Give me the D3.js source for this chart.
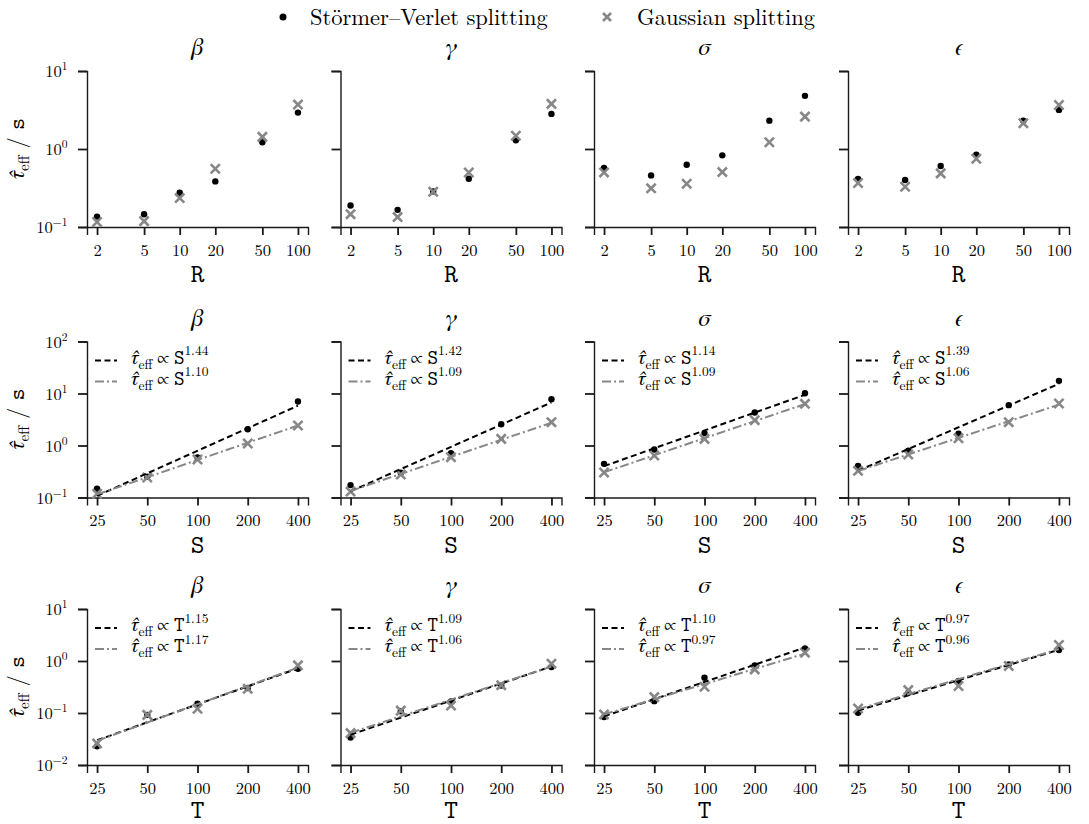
<!DOCTYPE html>
<html>
<head>
<meta charset="utf-8">
<script src="https://cdn.jsdelivr.net/npm/d3@7"></script>
<style>
  body { margin: 0; background: #fff; }
  svg { display: block; }
</style>
</head>
<body>
<div id="chart"></div>
<script>
  const params = ["β", "γ", "σ", "ϵ"];
  const rValues = [2, 5, 10, 20, 50, 100];
  const sizeValues = [25, 50, 100, 200, 400];

  // effective autocorrelation time vs R, one list per parameter
  const tauR_SV = [
    [0.136, 0.146, 0.275, 0.384, 1.22, 2.93],
    [0.189, 0.166, 0.286, 0.416, 1.29, 2.82],
    [0.57, 0.459, 0.629, 0.829, 2.31, 4.80],
    [0.412, 0.40, 0.605, 0.846, 2.31, 3.17]
  ];
  const tauR_Gauss = [
    [0.116, 0.119, 0.235, 0.559, 1.43, 3.71],
    [0.146, 0.134, 0.283, 0.50, 1.48, 3.79],
    [0.501, 0.313, 0.359, 0.506, 1.22, 2.60],
    [0.366, 0.328, 0.487, 0.751, 2.14, 3.67]
  ];

  // vs S
  const tauS_SV = [
    [0.147, 0.25, 0.588, 2.06, 7.0],
    [0.173, 0.30, 0.71, 2.57, 7.78],
    [0.444, 0.838, 1.73, 4.31, 10.1],
    [0.406, 0.79, 1.68, 5.97, 17.5]
  ];
  const tauS_Gauss = [
    [0.118, 0.242, 0.538, 1.09, 2.42],
    [0.130, 0.277, 0.597, 1.34, 2.81],
    [0.303, 0.642, 1.34, 3.07, 6.33],
    [0.326, 0.671, 1.38, 2.81, 6.42]
  ];
  const expS_SV = ["1.44", "1.42", "1.14", "1.39"];
  const expS_Gauss = ["1.10", "1.09", "1.09", "1.06"];

  // vs T
  const tauT_SV = [
    [0.023, 0.092, 0.151, 0.302, 0.711],
    [0.0338, 0.108, 0.166, 0.338, 0.766],
    [0.0834, 0.169, 0.477, 0.825, 1.75],
    [0.101, 0.245, 0.412, 0.862, 1.63]
  ];
  const tauT_Gauss = [
    [0.026, 0.092, 0.121, 0.293, 0.826],
    [0.041, 0.111, 0.139, 0.343, 0.888],
    [0.094, 0.202, 0.32, 0.69, 1.45],
    [0.122, 0.276, 0.33, 0.80, 2.03]
  ];
  const expT_SV = ["1.15", "1.09", "1.10", "0.97"];
  const expT_Gauss = ["1.17", "1.06", "0.97", "0.96"];

  const yTicksR = [0.1, 1, 10];
  const yTicksS = [0.1, 1, 10, 100];
  const yTicksT = [0.01, 0.1, 1, 10];

  const SERIF = '"Latin Modern Roman", "Liberation Serif", serif';
  const GREEK = '"FreeSerif", "Liberation Serif", serif';
  const MONO = '"Latin Modern Mono", "FreeMono", "Liberation Mono", monospace';

  const W = 1089, H = 824;
  const panelLeft = [87, 340.5, 594, 848];
  const panelW = 221, panelH = 156;
  const gray = "#878787";

  const rows = [
    { top: 71, xs: rValues, xVar: "R", yTicks: yTicksR, sv: tauR_SV, ga: tauR_Gauss },
    { top: 341.5, xs: sizeValues, xVar: "S", yTicks: yTicksS, sv: tauS_SV, ga: tauS_Gauss, expSV: expS_SV, expGa: expS_Gauss },
    { top: 609, xs: sizeValues, xVar: "T", yTicks: yTicksT, sv: tauT_SV, ga: tauT_Gauss, expSV: expT_SV, expGa: expT_Gauss }
  ];

  const svg = d3.select("#chart").append("svg")
    .attr("width", W).attr("height", H);

  function tauLabel(sel, size, subSize, sym, symSize, exp, expSize) {
    sel.append("tspan").style("font-family", GREEK).style("font-style", "italic")
      .attr("font-size", size).text("τ̂");
    sel.append("tspan").style("font-family", SERIF).attr("font-size", subSize)
      .attr("dy", size * 0.25).text("eff");
    if (exp !== undefined) {
      sel.append("tspan").style("font-family", GREEK).attr("font-size", size - 1)
        .attr("dy", -size * 0.25).text(" ∝ ");
      sel.append("tspan").style("font-family", MONO).attr("font-size", symSize).text(sym);
      sel.append("tspan").style("font-family", SERIF).attr("font-size", expSize)
        .attr("dy", -size * 0.42).text(exp);
    }
  }

  rows.forEach((row, ri) => {
    const xmin = row.xs[0], xmax = row.xs[row.xs.length - 1];
    const pad = Math.pow(xmax / xmin, 0.05);
    const yDom = [row.yTicks[0], row.yTicks[row.yTicks.length - 1]];

    params.forEach((p, pi) => {
      const g = svg.append("g")
        .attr("transform", `translate(${panelLeft[pi]},${row.top})`);

      const x = d3.scaleLog().domain([xmin / pad, xmax * pad]).range([0, panelW]);
      const y = d3.scaleLog().domain(yDom).range([panelH, 0]);

      // axes
      const xAxis = g.append("g").attr("transform", `translate(0,${panelH})`)
        .call(d3.axisBottom(x).tickValues(row.xs).tickSize(8).tickPadding(9).tickFormat(d3.format("d")));
      const yAxis = g.append("g")
        .call(d3.axisLeft(y).tickValues(row.yTicks).tickSize(9).tickFormat(""));
      [xAxis, yAxis].forEach(a => {
        a.select(".domain").attr("stroke", "#1a1a1a").attr("stroke-width", 1.4);
        a.selectAll(".tick line").attr("stroke", "#1a1a1a").attr("stroke-width", 1.8);
      });
      xAxis.selectAll(".tick text")
        .style("font-family", SERIF).attr("font-size", 16.5).attr("fill", "#000");

      if (pi === 0) {
        row.yTicks.forEach(t => {
          const e = Math.round(Math.log10(t));
          const lab = g.append("text")
            .attr("x", -19.5).attr("y", y(t) + 6)
            .attr("text-anchor", "end").style("font-family", SERIF);
          lab.append("tspan").attr("font-size", 16.5).text("10");
          lab.append("tspan").attr("font-size", 11.5).attr("dy", -7)
            .text(e < 0 ? "−" + (-e) : String(e));
        });
        const yl = svg.append("text")
          .attr("transform", `translate(23.5,${row.top + panelH / 2}) rotate(-90)`)
          .attr("text-anchor", "middle");
        tauLabel(yl, 22, 15);
        yl.append("tspan").style("font-family", SERIF).attr("font-size", 22)
          .attr("dy", -22 * 0.25).text(" / ");
        yl.append("tspan").style("font-family", MONO).attr("font-size", 23).text("s");
      }

      // title and x label
      g.append("text").attr("x", panelW / 2).attr("y", -16)
        .attr("text-anchor", "middle")
        .style("font-family", GREEK).style("font-style", "italic")
        .attr("font-size", 24).text(p);
      g.append("text").attr("x", panelW / 2).attr("y", panelH + (ri === 2 ? 53 : 55))
        .attr("text-anchor", "middle").style("font-family", MONO)
        .attr("font-size", 26).text(row.xVar);

      const sv = row.xs.map((v, i) => [v, row.sv[pi][i]]);
      const ga = row.xs.map((v, i) => [v, row.ga[pi][i]]);

      // Störmer–Verlet dots
      g.append("g").selectAll("circle").data(sv).join("circle")
        .attr("cx", d => x(d[0])).attr("cy", d => y(d[1]))
        .attr("r", 3.2).attr("fill", "#000");

      // Gaussian crosses
      const cs = 4.6;
      g.append("g").selectAll("path").data(ga).join("path")
        .attr("d", d => {
          const cx = x(d[0]), cy = y(d[1]);
          return `M${cx - cs},${cy - cs}L${cx + cs},${cy + cs}M${cx - cs},${cy + cs}L${cx + cs},${cy - cs}`;
        })
        .attr("stroke", gray).attr("stroke-width", 2.6).attr("fill", "none");

      // power-law fits: fixed exponent, intercept from least squares in log space
      if (row.expSV) {
        const fits = [
          { pts: sv, k: +row.expSV[pi], stroke: "#000", dash: "6,3.5", label: row.expSV[pi] },
          { pts: ga, k: +row.expGa[pi], stroke: gray, dash: "9,3,2,3", label: row.expGa[pi] }
        ];
        const line = d3.line().x(d => x(d[0])).y(d => y(d[1]));
        fits.forEach((f, fi) => {
          const logc = d3.mean(f.pts, d => Math.log10(d[1]) - f.k * Math.log10(d[0]));
          const ends = [xmin, xmax].map(v => [v, Math.pow(10, logc + f.k * Math.log10(v))]);
          g.append("path").attr("d", line(ends))
            .attr("stroke", f.stroke).attr("stroke-width", 2).attr("fill", "none")
            .attr("stroke-dasharray", f.dash);

          const ly = 19 + fi * 21;
          g.append("line").attr("x1", 8).attr("x2", 30).attr("y1", ly).attr("y2", ly)
            .attr("stroke", f.stroke).attr("stroke-width", 2).attr("stroke-dasharray", f.dash);
          const t = g.append("text").attr("x", 43).attr("y", ly + 3).attr("fill", "#000");
          tauLabel(t, 20, 13.5, row.xVar, 20, f.label, 13.5);
        });
      }
    });
  });

  // top legend
  const leg = svg.append("g");
  leg.append("circle").attr("cx", 283).attr("cy", 17).attr("r", 3.5).attr("fill", "#000");
  leg.append("text").attr("x", 310).attr("y", 25).attr("font-size", 22.5)
    .style("font-family", SERIF).text("Störmer–Verlet splitting");
  leg.append("path")
    .attr("d", "M603,13L611,21M603,21L611,13")
    .attr("stroke", gray).attr("stroke-width", 2.6);
  leg.append("text").attr("x", 637).attr("y", 25).attr("font-size", 22.5)
    .style("font-family", SERIF).text("Gaussian splitting");
</script>
</body>
</html>
